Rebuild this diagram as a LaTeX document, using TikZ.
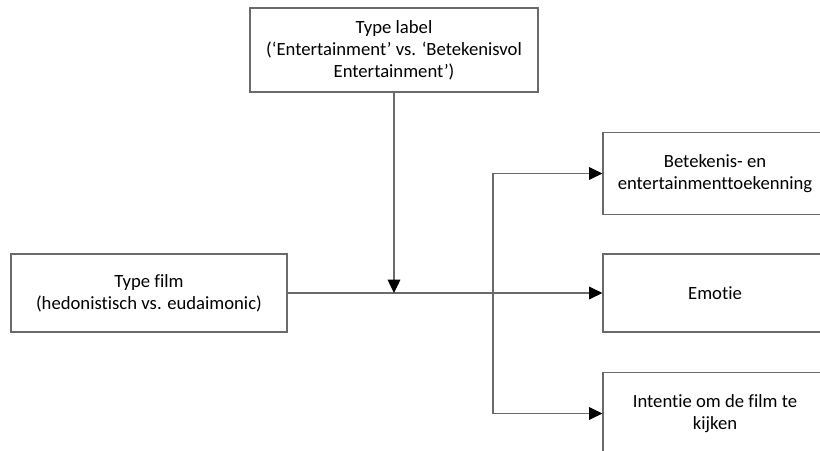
\documentclass[tikz,border=0pt]{standalone}
\usepackage{fontspec}
\setmainfont[Ligatures={TeX,NoCommon}]{Carlito}
\usetikzlibrary{arrows.meta}
\definecolor{linegray}{HTML}{6A6A6A}

\begin{document}
\begin{tikzpicture}[
    x=0.75pt, y=-0.75pt,
    every node/.style={draw=linegray, line width=0.9pt, align=center, inner sep=0pt,
                       font=\fontsize{14}{16.5}\selectfont},
    conn/.style={draw=linegray, line width=0.9pt},
    tip/.style={conn, -{Triangle[length=10pt, width=9.5pt, color=black]}},
]
  \useasboundingbox (0,0) rectangle (820,450);
  \clip (0,0) rectangle (820,450);

  \node [minimum width=216pt, minimum height=63pt] (label) at (394,50)
        {Type label\\(`Entertainment' vs. `Betekenisvol\\Entertainment')};
  \node [minimum width=168pt, minimum height=62pt] (betekenis) at (715,173.5)
        {Betekenis- en\\entertainmenttoekenning};
  \node [minimum width=168pt, minimum height=58.5pt] (emotie) at (715,293)
        {Emotie};
  \node [minimum width=168pt, minimum height=62pt] (intentie) at (715,413.5)
        {Intentie om de film te\\kijken};
  \node [minimum width=207pt, minimum height=58.5pt] (film) at (149,293)
        {Type film\\(hedonistisch vs. eudaimonic)}
        edge [tip] (emotie);

  \coordinate (split) at (493,293);
  \draw [tip] (label) -- (label |- film);
  \draw [tip] (split) |- (betekenis);
  \draw [tip] (split) |- (intentie);
\end{tikzpicture}
\end{document}
